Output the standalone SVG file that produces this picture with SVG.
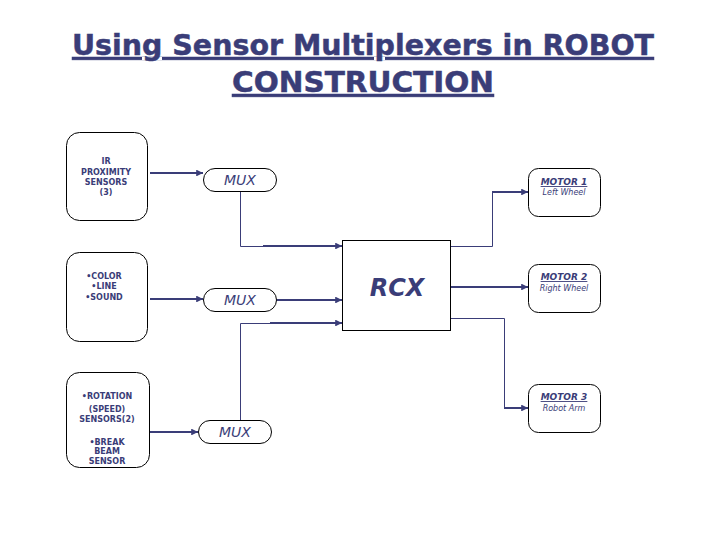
<svg xmlns="http://www.w3.org/2000/svg" width="720" height="540" viewBox="0 0 720 540">
<defs>
<style>
.box{fill:#fff;stroke:#000;stroke-width:1}
.t{fill:#3a3d78;font-family:"DejaVu Sans",Verdana,sans-serif}
.title{font-size:29px;font-weight:bold;text-decoration:underline;stroke:#3a3d78;stroke-width:0.5}
.s{font-size:8px;font-weight:bold}
.mux{font-size:14px;font-style:italic}
.rcx{font-size:24px;font-style:italic;font-weight:bold}
.mt{font-size:9px;font-style:italic;font-weight:bold;text-decoration:underline}
.ms{font-size:8px;font-style:italic}
.thin{fill:none;stroke:#3a3d78;stroke-width:1}
.thick{fill:none;stroke:#3a3d78;stroke-width:2}
</style>
<marker id="ah" viewBox="0 0 10 10" refX="10" refY="5" markerWidth="3.4" markerHeight="3.4" orient="auto" markerUnits="strokeWidth">
<path d="M0,0 L10,5 L0,10 z" fill="#3a3d78"/>
</marker>
</defs>
<rect width="720" height="540" fill="#fff"/>

<g id="title">
<text class="t title" x="363" y="55" text-anchor="middle" textLength="582" lengthAdjust="spacingAndGlyphs">Using Sensor Multiplexers in ROBOT</text>
<text class="t title" x="363" y="92" text-anchor="middle" textLength="262" lengthAdjust="spacingAndGlyphs">CONSTRUCTION</text>
</g>

<g id="connectors">
<path class="thick" d="M150,173 H203" marker-end="url(#ah)"/>
<path class="thick" d="M150,299 H203" marker-end="url(#ah)"/>
<path class="thick" d="M150,432 H198" marker-end="url(#ah)"/>
<path class="thin" d="M240.5,191 V246.5 H264"/>
<path class="thick" d="M263,246 H342" marker-end="url(#ah)"/>
<path class="thick" d="M277,300 H342" marker-end="url(#ah)"/>
<path class="thin" d="M240.5,420 V323.5 H271"/>
<path class="thick" d="M270,323 H342" marker-end="url(#ah)"/>
<path class="thin" d="M451,246.5 H492.5 V192 H500"/>
<path class="thick" d="M492,192 H528" marker-end="url(#ah)"/>
<path class="thick" d="M451,287 H528" marker-end="url(#ah)"/>
<path class="thin" d="M451,318.5 H504.5 V408 H510"/>
<path class="thick" d="M504,408 H528" marker-end="url(#ah)"/>
</g>

<g id="sensor-ir">
<rect class="box" x="66.5" y="132.5" width="81" height="88" rx="13"/>
<text class="t s" text-anchor="middle"><tspan x="106" y="164">IR</tspan><tspan x="106" y="175">PROXIMITY</tspan><tspan x="106" y="185">SENSORS</tspan><tspan x="106" y="195">(3)</tspan></text>
</g>

<g id="sensor-color">
<rect class="box" x="66.5" y="252.5" width="81" height="89" rx="13"/>
<text class="t s" text-anchor="middle"><tspan x="104" y="279">•COLOR</tspan><tspan x="104" y="289">•LINE</tspan><tspan x="104" y="300">•SOUND</tspan></text>
</g>

<g id="sensor-rotation">
<rect class="box" x="66.5" y="372.5" width="83" height="95" rx="13"/>
<text class="t s" text-anchor="middle"><tspan x="107" y="399">•ROTATION</tspan><tspan x="107" y="412">(SPEED)</tspan><tspan x="107" y="422">SENSORS(2)</tspan><tspan x="107" y="445">•BREAK</tspan><tspan x="107" y="454">BEAM</tspan><tspan x="107" y="464">SENSOR</tspan></text>
</g>

<g id="mux1">
<rect class="box" x="203.5" y="168.5" width="73" height="23" rx="11.5"/>
<text class="t mux" x="240" y="185" text-anchor="middle">MUX</text>
</g>
<g id="mux2">
<rect class="box" x="203.5" y="288.5" width="73" height="23" rx="11.5"/>
<text class="t mux" x="240" y="305" text-anchor="middle">MUX</text>
</g>
<g id="mux3">
<rect class="box" x="198.5" y="420.5" width="73" height="23" rx="11.5"/>
<text class="t mux" x="235" y="437" text-anchor="middle">MUX</text>
</g>

<g id="rcx">
<rect class="box" x="342.5" y="240.5" width="108" height="90"/>
<text class="t rcx" x="397" y="296" text-anchor="middle">RCX</text>
</g>

<g id="motor1">
<rect class="box" x="528.5" y="168.5" width="72" height="48" rx="10"/>
<text class="t mt" x="564" y="185" text-anchor="middle">MOTOR 1</text>
<text class="t ms" x="564" y="195" text-anchor="middle">Left Wheel</text>
</g>
<g id="motor2">
<rect class="box" x="528.5" y="264.5" width="72" height="48" rx="10"/>
<text class="t mt" x="564" y="280" text-anchor="middle">MOTOR 2</text>
<text class="t ms" x="564" y="291" text-anchor="middle">Right Wheel</text>
</g>
<g id="motor3">
<rect class="box" x="528.5" y="384.5" width="72" height="48" rx="10"/>
<text class="t mt" x="564" y="400" text-anchor="middle">MOTOR 3</text>
<text class="t ms" x="564" y="411" text-anchor="middle">Robot Arm</text>
</g>
</svg>
